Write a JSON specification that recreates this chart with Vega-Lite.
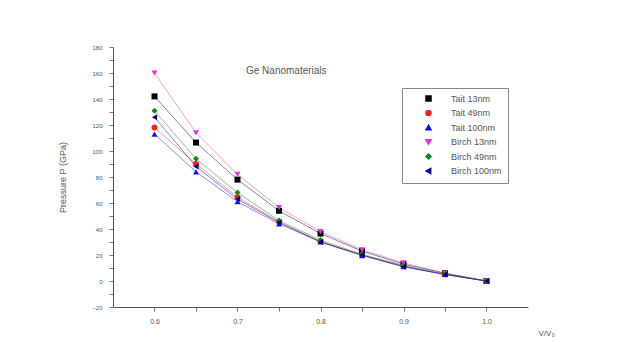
{
  "$schema": "https://vega.github.io/schema/vega-lite/v6.json",
  "width": 415,
  "height": 260,
  "autosize": {"type": "none"},
  "padding": {"left": 113, "top": 47, "right": 107, "bottom": 35},
  "background": "white",
  "title": {
    "text": "Ge Nanomaterials",
    "anchor": "start",
    "frame": "group",
    "dx": 133,
    "offset": -32,
    "font": "Liberation Sans",
    "fontSize": 10,
    "fontWeight": "normal",
    "color": "#555555"
  },
  "config": {
    "view": {"stroke": null},
    "font": "Liberation Sans"
  },
  "data": {
    "values": [
      {"v": 0.6, "p": 142, "s": "Tait 13nm"},
      {"v": 0.65, "p": 106.5, "s": "Tait 13nm"},
      {"v": 0.7, "p": 78, "s": "Tait 13nm"},
      {"v": 0.75, "p": 54, "s": "Tait 13nm"},
      {"v": 0.8, "p": 36.5, "s": "Tait 13nm"},
      {"v": 0.85, "p": 23, "s": "Tait 13nm"},
      {"v": 0.9, "p": 13, "s": "Tait 13nm"},
      {"v": 0.95, "p": 6, "s": "Tait 13nm"},
      {"v": 1.0, "p": 0, "s": "Tait 13nm"},
      {"v": 0.6, "p": 118, "s": "Tait 49nm"},
      {"v": 0.65, "p": 90, "s": "Tait 49nm"},
      {"v": 0.7, "p": 64.5, "s": "Tait 49nm"},
      {"v": 0.75, "p": 45.5, "s": "Tait 49nm"},
      {"v": 0.8, "p": 30.5, "s": "Tait 49nm"},
      {"v": 0.85, "p": 20, "s": "Tait 49nm"},
      {"v": 0.9, "p": 11.5, "s": "Tait 49nm"},
      {"v": 0.95, "p": 5, "s": "Tait 49nm"},
      {"v": 1.0, "p": 0, "s": "Tait 49nm"},
      {"v": 0.6, "p": 113, "s": "Tait 100nm"},
      {"v": 0.65, "p": 84, "s": "Tait 100nm"},
      {"v": 0.7, "p": 61, "s": "Tait 100nm"},
      {"v": 0.75, "p": 44, "s": "Tait 100nm"},
      {"v": 0.8, "p": 30, "s": "Tait 100nm"},
      {"v": 0.85, "p": 19.5, "s": "Tait 100nm"},
      {"v": 0.9, "p": 11, "s": "Tait 100nm"},
      {"v": 0.95, "p": 5, "s": "Tait 100nm"},
      {"v": 1.0, "p": 0, "s": "Tait 100nm"},
      {"v": 0.6, "p": 160, "s": "Birch 13nm"},
      {"v": 0.65, "p": 114, "s": "Birch 13nm"},
      {"v": 0.7, "p": 82, "s": "Birch 13nm"},
      {"v": 0.75, "p": 56.5, "s": "Birch 13nm"},
      {"v": 0.8, "p": 38, "s": "Birch 13nm"},
      {"v": 0.85, "p": 24, "s": "Birch 13nm"},
      {"v": 0.9, "p": 14, "s": "Birch 13nm"},
      {"v": 0.95, "p": 6, "s": "Birch 13nm"},
      {"v": 1.0, "p": 0, "s": "Birch 13nm"},
      {"v": 0.6, "p": 131, "s": "Birch 49nm"},
      {"v": 0.65, "p": 94, "s": "Birch 49nm"},
      {"v": 0.7, "p": 68, "s": "Birch 49nm"},
      {"v": 0.75, "p": 46.5, "s": "Birch 49nm"},
      {"v": 0.8, "p": 31.5, "s": "Birch 49nm"},
      {"v": 0.85, "p": 20.5, "s": "Birch 49nm"},
      {"v": 0.9, "p": 12, "s": "Birch 49nm"},
      {"v": 0.95, "p": 5.5, "s": "Birch 49nm"},
      {"v": 1.0, "p": 0, "s": "Birch 49nm"},
      {"v": 0.6, "p": 126, "s": "Birch 100nm"},
      {"v": 0.65, "p": 88, "s": "Birch 100nm"},
      {"v": 0.7, "p": 63, "s": "Birch 100nm"},
      {"v": 0.75, "p": 45, "s": "Birch 100nm"},
      {"v": 0.8, "p": 30, "s": "Birch 100nm"},
      {"v": 0.85, "p": 20, "s": "Birch 100nm"},
      {"v": 0.9, "p": 11, "s": "Birch 100nm"},
      {"v": 0.95, "p": 5, "s": "Birch 100nm"},
      {"v": 1.0, "p": 0, "s": "Birch 100nm"}
    ]
  },
  "encoding": {
    "x": {
      "field": "v",
      "type": "quantitative",
      "scale": {"domain": [0.55, 1.05], "nice": false, "zero": false},
      "axis": {
        "title": "V/V₀",
        "titleFontSize": 8,
        "titleFontWeight": "normal",
        "titleColor": "#555555",
        "titleAlign": "left",
        "titleX": 425,
        "titleY": 22,
        "values": [0.6, 0.65, 0.7, 0.75, 0.8, 0.85, 0.9, 0.95, 1.0],
        "labelExpr": "abs(datum.value*10 - round(datum.value*10)) < 0.01 ? format(datum.value, '.1f') : ''",
        "labelFontSize": 7,
        "labelColor": "#555555",
        "labelPadding": 6,
        "tickSize": 4,
        "tickColor": "#777777",
        "domainColor": "#555555",
        "grid": false
      }
    },
    "y": {
      "field": "p",
      "type": "quantitative",
      "scale": {"domain": [-20, 180], "nice": false},
      "axis": {
        "title": "Pressure P (GPa)",
        "titleFontSize": 9,
        "titleFontWeight": "normal",
        "titleColor": "#555555",
        "titlePadding": 24,
        "values": [-20, -10, 0, 10, 20, 30, 40, 50, 60, 70, 80, 90, 100, 110, 120, 130, 140, 150, 160, 170, 180],
        "labelExpr": "datum.value % 20 == 0 ? datum.label : ''",
        "labelFontSize": 6,
        "labelColor": "#555555",
        "labelPadding": 7,
        "tickSize": 4,
        "tickColor": "#777777",
        "domainColor": "#555555",
        "grid": false
      }
    },
    "color": {
      "field": "s",
      "type": "nominal",
      "scale": {
        "domain": ["Tait 13nm", "Tait 49nm", "Tait 100nm", "Birch 13nm", "Birch 49nm", "Birch 100nm"],
        "range": ["#000000", "#ee2222", "#1111dd", "#dd33dd", "#118811", "#000080"]
      },
      "legend": {
        "title": null,
        "orient": "none",
        "legendX": 289,
        "legendY": 41,
        "strokeColor": "#888888",
        "fillColor": "white",
        "padding": 6,
        "labelFontSize": 9,
        "labelColor": "#555555",
        "symbolSize": 25,
        "symbolOpacity": 1,
        "symbolOffset": 16,
        "labelOffset": 18,
        "rowPadding": 3.5
      }
    }
  },
  "layer": [
    {
      "mark": {"type": "line", "strokeWidth": 0.8, "opacity": 0.6}
    },
    {
      "mark": {"type": "point", "filled": true, "size": 36, "opacity": 1},
      "encoding": {
        "shape": {
          "field": "s",
          "type": "nominal",
          "scale": {
            "domain": ["Tait 13nm", "Tait 49nm", "Tait 100nm", "Birch 13nm", "Birch 49nm", "Birch 100nm"],
            "range": ["square", "circle", "triangle-up", "triangle-down", "diamond", "triangle-left"]
          },
          "legend": {
            "title": null,
            "orient": "none",
            "legendX": 289,
            "legendY": 41
          }
        }
      }
    }
  ]
}
